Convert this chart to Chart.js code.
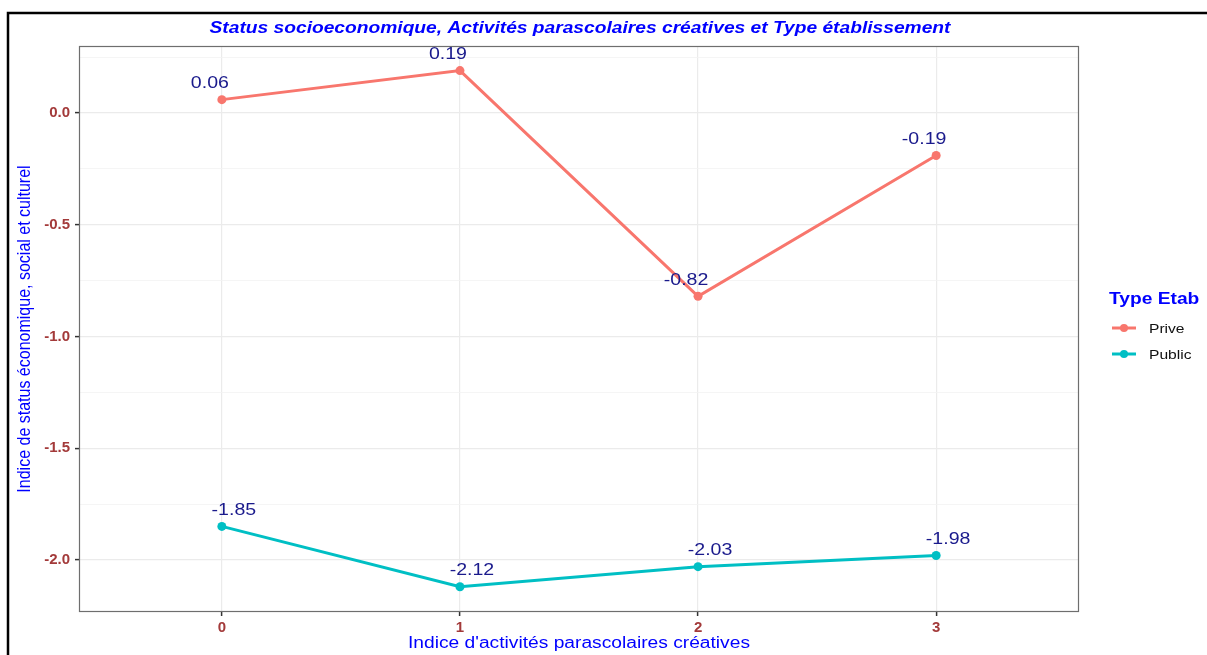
<!DOCTYPE html>
<html>
<head>
<meta charset="utf-8">
<script src="https://cdn.jsdelivr.net/npm/chart.js@4"></script>
<style>
  html, body { margin: 0; padding: 0; background: #fff; }
  #wrap { width: 1207px; height: 655px; position: relative; }
</style>
</head>
<body>
<div id="wrap"><canvas id="c" width="1207" height="655"></canvas></div>
<script>
// Indice d'activités parascolaires créatives (x) and mean socio-economic index per school type
const activites = [0, 1, 2, 3];
const prive = [0.06, 0.19, -0.82, -0.19];
const publicEtab = [-1.85, -2.12, -2.03, -1.98];
const seriesNames = ['Prive', 'Public'];
const xTicks = [0, 1, 2, 3];
const yMajorTicks = [-2.0, -1.5, -1.0, -0.5, 0.0];
const yMinorTicks = [-1.75, -1.25, -0.75, -0.25, 0.25];

const titleText = 'Status socioeconomique, Activités parascolaires créatives et Type établissement';
const xTitle = "Indice d'activités parascolaires créatives";
const yTitle = 'Indice de status économique, social et culturel';
const legendTitle = 'Type Etab';

const colPrive = '#F8766D';
const colPublic = '#00BFC4';
const tickColor = '#A33A3A';
const labelColor = '#1A1A8C';

const FONT = '"Liberation Sans", Arial, sans-serif';
const WIDE = 1.2; // horizontal widening of the annotation text

const isMajor = v => yMajorTicks.some(t => Math.abs(t - v) < 1e-6);

// draws text widened horizontally around its anchor
function wideText(ctx, text, x, y, k) {
  ctx.save();
  ctx.translate(x, y);
  ctx.scale(k || WIDE, 1);
  ctx.fillText(text, 0, 0);
  ctx.restore();
}

// value labels above each point, shifted sideways per series
const valueLabels = {
  id: 'valueLabels',
  afterDatasetsDraw(chart) {
    const ctx = chart.ctx;
    ctx.save();
    ctx.font = '17px ' + FONT;
    ctx.fillStyle = labelColor;
    ctx.textAlign = 'center';
    ctx.textBaseline = 'middle';
    chart.data.datasets.forEach((ds, i) => {
      const meta = chart.getDatasetMeta(i);
      const shift = i === 0 ? -12 : 12;
      meta.data.forEach((pt, j) => {
        wideText(ctx, ds.data[j].y.toFixed(2), pt.x + shift, pt.y - 16, 1.15);
      });
    });
    ctx.restore();
  }
};

// panel border, outer frame, titles and legend
const decorations = {
  id: 'decorations',
  afterDraw(chart) {
    const ctx = chart.ctx;
    const a = chart.chartArea;
    ctx.save();
    // panel border
    ctx.strokeStyle = '#6E6E6E';
    ctx.lineWidth = 1.2;
    ctx.strokeRect(a.left + 0.5, a.top + 0.5, a.right - a.left - 1, a.bottom - a.top - 1);

    // outer frame (left and top)
    ctx.strokeStyle = '#000';
    ctx.lineWidth = 2.5;
    ctx.beginPath();
    ctx.moveTo(8, 655);
    ctx.lineTo(8, 13);
    ctx.lineTo(1207, 13);
    ctx.stroke();

    // title
    ctx.fillStyle = '#0000FF';
    ctx.font = 'bold italic 16px ' + FONT;
    ctx.textAlign = 'center';
    ctx.textBaseline = 'middle';
    wideText(ctx, titleText, 580, 29);

    // x axis title
    ctx.font = '16px ' + FONT;
    wideText(ctx, xTitle, (a.left + a.right) / 2, 644);

    // y axis title
    ctx.save();
    ctx.translate(25, (a.top + a.bottom) / 2);
    ctx.rotate(-Math.PI / 2);
    ctx.scale(1, WIDE);
    ctx.fillText(yTitle, 0, 0);
    ctx.restore();

    // legend
    ctx.textAlign = 'left';
    ctx.font = 'bold 16px ' + FONT;
    wideText(ctx, legendTitle, 1109, 300);
    chart.data.datasets.forEach((ds, i) => {
      const y = 328 + i * 26;
      ctx.strokeStyle = ds.borderColor;
      ctx.lineWidth = 3;
      ctx.beginPath();
      ctx.moveTo(1112, y);
      ctx.lineTo(1136, y);
      ctx.stroke();
      ctx.fillStyle = ds.borderColor;
      ctx.beginPath();
      ctx.arc(1124, y, 4, 0, Math.PI * 2);
      ctx.fill();
      ctx.fillStyle = '#111';
      ctx.font = '13px ' + FONT;
      wideText(ctx, ds.label, 1149, y + 1);
    });
    ctx.restore();
  }
};

const toPoints = vals => activites.map((x, i) => ({ x: x, y: vals[i] }));

new Chart(document.getElementById('c'), {
  type: 'line',
  data: {
    datasets: [
      {
        label: seriesNames[0],
        data: toPoints(prive),
        borderColor: colPrive,
        backgroundColor: colPrive,
        borderWidth: 3,
        pointRadius: 4.5,
        pointBorderWidth: 0,
        pointHoverRadius: 4.5,
        tension: 0
      },
      {
        label: seriesNames[1],
        data: toPoints(publicEtab),
        borderColor: colPublic,
        backgroundColor: colPublic,
        borderWidth: 3,
        pointRadius: 4.5,
        pointBorderWidth: 0,
        pointHoverRadius: 4.5,
        tension: 0
      }
    ]
  },
  options: {
    responsive: false,
    animation: false,
    events: [],
    layout: { padding: { top: 46, right: 128, bottom: 0, left: 0 } },
    plugins: {
      legend: { display: false },
      title: { display: false },
      tooltip: { enabled: false }
    },
    scales: {
      x: {
        type: 'linear',
        min: -0.6,
        max: 3.6,
        afterBuildTicks: s => { s.ticks = xTicks.map(v => ({ value: v })); },
        afterFit: s => { s.height = 43; },
        border: { display: false },
        grid: {
          color: '#EBEBEB',
          lineWidth: 1.2,
          drawTicks: true,
          tickLength: 4,
          tickColor: '#333',
          tickWidth: 1.5
        },
        ticks: {
          padding: 3,
          color: tickColor,
          font: { family: FONT, size: 15, weight: 'bold' },
          callback: v => String(v)
        }
      },
      y: {
        type: 'linear',
        min: -2.233,
        max: 0.30,
        afterBuildTicks: s => {
          s.ticks = yMajorTicks.concat(yMinorTicks).sort((p, q) => p - q).map(v => ({ value: v }));
        },
        afterFit: s => { s.width = 79; },
        border: { display: false },
        grid: {
          color: c => isMajor(c.tick.value) ? '#EBEBEB' : '#F3F3F3',
          lineWidth: c => isMajor(c.tick.value) ? 1.2 : 0.8,
          drawTicks: true,
          tickLength: 4,
          tickColor: c => isMajor(c.tick.value) ? '#333' : 'rgba(0,0,0,0)',
          tickWidth: 1.5
        },
        ticks: {
          padding: 5,
          color: tickColor,
          font: { family: FONT, size: 15, weight: 'bold' },
          callback: v => isMajor(v) ? v.toFixed(1) : ''
        }
      }
    }
  },
  plugins: [valueLabels, decorations]
});
</script>
</body>
</html>
